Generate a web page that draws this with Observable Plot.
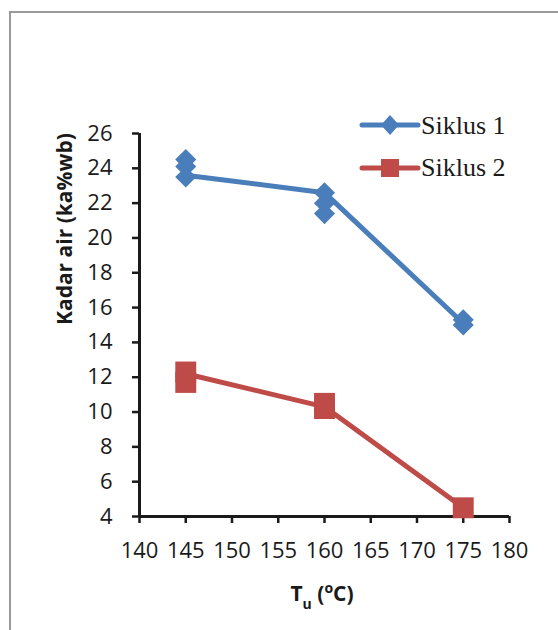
<!DOCTYPE html>
<html><head><meta charset="utf-8">
<script src="https://cdn.jsdelivr.net/npm/d3@7"></script>
<script src="https://cdn.jsdelivr.net/npm/@observablehq/plot@0.6"></script>
<style>
body{margin:0;background:#fff;}
#wrap{position:relative;width:558px;height:630px;overflow:hidden;background:#fff;}
#frame{position:absolute;left:9px;top:11px;width:600px;height:700px;border-left:2px solid #9a9a9a;border-top:2px solid #9a9a9a;}
#plot{position:absolute;left:0;top:0;}
#xlabel{position:absolute;left:222px;top:583px;width:200px;text-align:center;font-family:'Open Sans',sans-serif;font-weight:bold;font-size:21px;line-height:21px;color:#1a1a1a;white-space:nowrap;}
#xlabel .sub{position:relative;top:8px;font-size:14px;}
#xlabel .sup{position:relative;top:-8px;font-size:14px;}
#legend{position:absolute;left:0;top:0;}
.ltext{position:absolute;font-family:'Liberation Serif','Times New Roman',serif;font-size:26px;line-height:26px;color:#1a1a1a;white-space:nowrap;}
</style></head><body>
<div id="wrap"><div id="frame"></div><div id="plot"></div>
<div id="xlabel">T<span class="sub">u</span> (<span class="sup">o</span>C)</div>
<svg id="legend" width="558" height="630"></svg>
<div class="ltext" style="left:421px;top:113px;">Siklus 1</div>
<div class="ltext" style="left:421px;top:155px;">Siklus 2</div>
</div>
<script>
const temps = [145, 160, 175];
const siklus1 = [[24.5, 24.1, 23.5], [22.6, 22.0, 21.4], [15.3, 15.0]];
const siklus2 = [[12.3, 11.7], [10.5, 10.2], [4.5]];
const siklus1Line = [23.6, 22.6, 15.1];
const siklus2Line = [12.2, 10.3, 4.5];
const xTicks = [140, 145, 150, 155, 160, 165, 170, 175, 180];
const yTicks = [4, 6, 8, 10, 12, 14, 16, 18, 20, 22, 24, 26];
const seriesNames = ["Siklus 1", "Siklus 2"];
const yLabel = "Kadar air (ka%wb)";

const blue = "#4a7ebb", red = "#be4b48", ink = "#1a1a1a";

const pts1 = temps.flatMap((t, i) => siklus1[i].map(v => ({x: t, y: v})));
const pts2 = temps.flatMap((t, i) => siklus2[i].map(v => ({x: t, y: v})));
const line1 = temps.map((t, i) => ({x: t, y: siklus1Line[i]}));
const line2 = temps.map((t, i) => ({x: t, y: siklus2Line[i]}));

const plot = Plot.plot({
  width: 558, height: 630,
  marginLeft: 139, marginRight: 49, marginTop: 133, marginBottom: 114,
  x: {domain: [140, 180]},
  y: {domain: [4, 26]},
  style: {fontFamily: "'Open Sans', sans-serif", fontSize: "22px", color: ink, background: "transparent"},
  marks: [
    Plot.axisX({ticks: xTicks, tickSize: 7, tickPadding: 19, strokeWidth: 2.5, color: ink, label: null}),
    Plot.axisY({ticks: yTicks, tickSize: 7, tickPadding: 20, strokeWidth: 2.5, color: ink, label: null}),
    Plot.ruleX([140], {stroke: ink, strokeWidth: 3}),
    Plot.ruleY([4], {stroke: ink, strokeWidth: 3}),
    Plot.line(line1, {x: "x", y: "y", stroke: blue, strokeWidth: 5}),
    Plot.dot(pts1, {x: "x", y: "y", symbol: "diamond2", r: 9.5, fill: blue, stroke: null}),
    Plot.line(line2, {x: "x", y: "y", stroke: red, strokeWidth: 5}),
    Plot.dot(pts2, {x: "x", y: "y", symbol: "square", r: 11.8, fill: red, stroke: null}),
    Plot.text([yLabel], {text: d => d, frameAnchor: "left", rotate: -90, dx: -74, fontWeight: "bold", fontSize: 21, fill: ink})
  ]
});
document.getElementById("plot").appendChild(plot);

// legend swatches
const lg = d3.select("#legend");
const rows = [{y: 125, c: blue, sym: "d"}, {y: 168, c: red, sym: "s"}];
rows.forEach(r => {
  lg.append("line").attr("x1", 362).attr("x2", 418).attr("y1", r.y).attr("y2", r.y)
    .attr("stroke", r.c).attr("stroke-width", 5).attr("stroke-linecap", "round");
  if (r.sym === "d") {
    lg.append("path").attr("d", `M390,${r.y-10}L399,${r.y}L390,${r.y+10}L381,${r.y}Z`).attr("fill", r.c);
  } else {
    lg.append("rect").attr("x", 381).attr("y", r.y - 9).attr("width", 18).attr("height", 18).attr("fill", r.c);
  }
});
</script>
</body></html>
